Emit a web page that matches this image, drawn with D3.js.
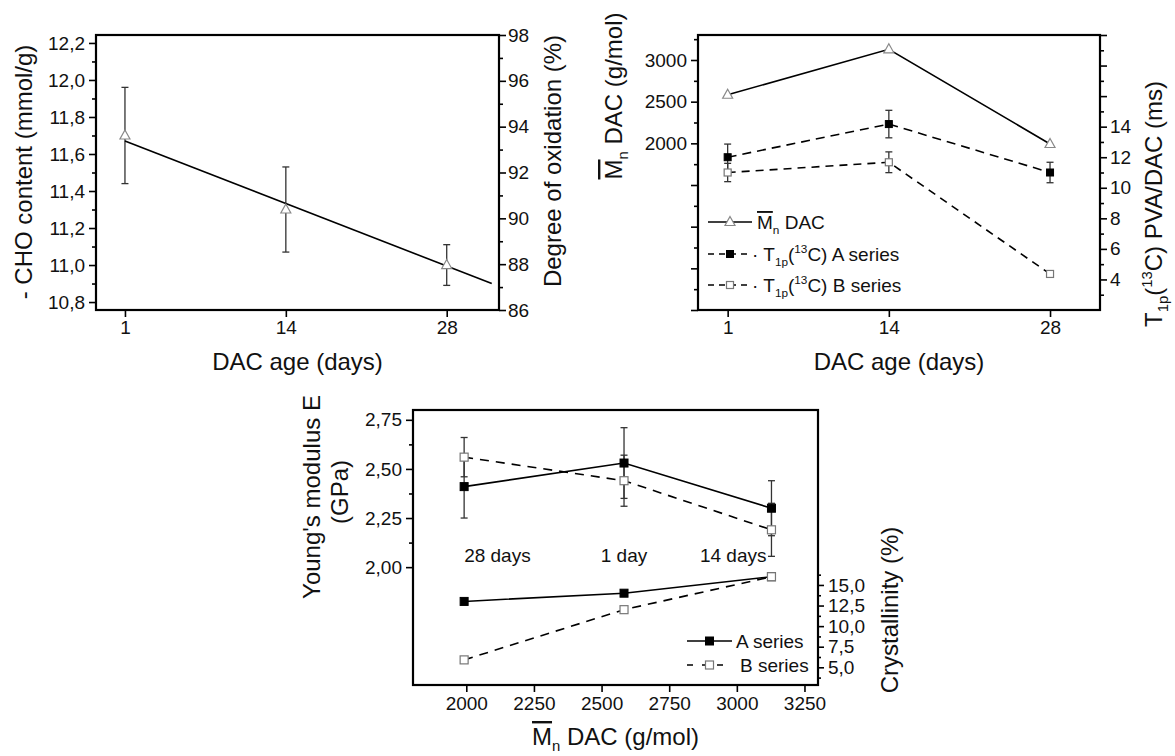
<!DOCTYPE html>
<html>
<head>
<meta charset="utf-8">
<script src="https://cdn.jsdelivr.net/npm/d3@7"></script>
<style>
  body { margin: 0; background: #fff; }
  svg text { font-family: "Liberation Sans", Arial, sans-serif; fill: #111; }
</style>
</head>
<body>
<svg id="chart" width="1175" height="756"></svg>
<script>
// ---- sample ages ----
const days = [1, 14, 28];
const dayLabels = ["1", "14", "28"];

// ---- -CHO content (mmol/g) with standard deviations ----
const choContent = [11.70, 11.30, 11.00];
const choError = [0.26, 0.23, 0.11];
// linear fit through the -CHO data (sample position -> value)
const choFitPos = [1, 3.28];
const choFitVal = [11.67, 10.90];

// ---- number-average molar mass of DAC (g/mol) ----
const mnDac = [2583, 3128, 1992];

// ---- T1p(13C) relaxation times of PVA/DAC (ms) ----
const t1pA = [12.0, 14.17, 11.0];
const t1pAErr = [0.86, 0.9, 0.67];
const t1pB = [11.0, 11.67, 4.36];
const t1pBErr = [0.6, 0.68, 0];

// ---- films ordered by Mn of the DAC used ----
const filmOrder = [2, 0, 1];               // indices into days: 28, 1, 14
const filmLabels = ["28 days", "1 day", "14 days"];
const youngA = [2.41, 2.53, 2.30];
const youngAErr = [0.16, 0.18, 0.14];
const youngB = [2.56, 2.44, 2.19];
const youngBErr = [0.10, 0.13, 0.135];
const crystA = [13.0, 14.0, 16.0];
const crystB = [5.9, 12.0, 16.0];

// ---- axis ticks ----
const choTicks = [10.8, 11.0, 11.2, 11.4, 11.6, 11.8, 12.0, 12.2];
const oxTicks = [86, 88, 90, 92, 94, 96, 98];
const mnTicks = [0, 500, 1000, 1500, 2000, 2500, 3000];
const mnLabelled = [2000, 2500, 3000];
const t1pTicks = [4, 6, 8, 10, 12, 14, 16, 18, 20];
const t1pLabelled = [4, 6, 8, 10, 12, 14];
const youngTicks = [2.00, 2.25, 2.50, 2.75];
const crystTicks = [5.0, 7.5, 10.0, 12.5, 15.0];
const mnAxisTicks = [2000, 2250, 2500, 2750, 3000, 3250];

const svg = d3.select("#chart");
const locale = d3.formatLocale({decimal: ",", thousands: ".", grouping: [3], currency: ["", ""]});
const f1 = locale.format(".1f"), f2 = locale.format(".2f");

const TICK_FS = 19, TITLE_FS = 24;

function frame(p) {
  svg.append("rect").attr("x", p.l).attr("y", p.t)
    .attr("width", p.r - p.l).attr("height", p.b - p.t)
    .attr("fill", "none").attr("stroke", "#000").attr("stroke-width", 2.2);
}

function axis(gen, transform, vals, fmt, size, pad) {
  const g = svg.append("g").attr("transform", transform)
    .call(gen.tickValues(vals).tickFormat(fmt).tickSize(size).tickPadding(pad));
  g.select(".domain").remove();
  g.attr("font-size", TICK_FS).attr("font-family", "Liberation Sans, Arial, sans-serif");
  g.selectAll(".tick line").attr("stroke", "#000").attr("stroke-width", 1.6);
  g.selectAll(".tick text").attr("fill", "#111");
  return g;
}

// text with optional sub/superscript and overlined pieces
function rich(sel, parts, size) {
  let shift = 0;
  parts.forEach(p => {
    const ts = sel.append("tspan").text(p.t);
    let target = 0, fs = size;
    if (p.sub) { target = size * 0.26; fs = size * 0.62; }
    if (p.sup) { target = -size * 0.42; fs = size * 0.62; }
    ts.attr("font-size", fs).attr("dy", target - shift);
    shift = target;
    if (p.over) ts.style("text-decoration", "overline");
  });
  return sel;
}

function vTitle(x, y, parts, size) {
  const t = svg.append("text").attr("transform", `translate(${x},${y}) rotate(-90)`)
    .attr("text-anchor", "middle").attr("font-size", size);
  return rich(t, parts, size);
}
function hTitle(x, y, parts, size, anchor) {
  const t = svg.append("text").attr("x", x).attr("y", y)
    .attr("text-anchor", anchor || "middle").attr("font-size", size);
  return rich(t, parts, size);
}

function triangle(g, cx, cy) {
  g.append("path").attr("d", `M${cx},${cy - 5.5}L${cx + 5},${cy + 3.5}L${cx - 5},${cy + 3.5}Z`)
    .attr("fill", "#fff").attr("stroke", "#888").attr("stroke-width", 1.2);
}
function square(g, cx, cy, s, filled) {
  g.append("rect").attr("x", cx - s / 2).attr("y", cy - s / 2).attr("width", s).attr("height", s)
    .attr("fill", filled ? "#000" : "#fff").attr("stroke", filled ? "#000" : "#777")
    .attr("stroke-width", filled ? 1 : 1.2);
}
function errBar(g, cx, yTop, yBot) {
  g.append("line").attr("x1", cx).attr("x2", cx).attr("y1", yTop).attr("y2", yBot)
    .attr("stroke", "#333").attr("stroke-width", 1.3);
  [yTop, yBot].forEach(y => g.append("line").attr("x1", cx - 3.5).attr("x2", cx + 3.5)
    .attr("y1", y).attr("y2", y).attr("stroke", "#333").attr("stroke-width", 1.3));
}

const dayPos = days.map((d, i) => i + 1);
const minorBetween = (arr, step) => arr.slice(0, -1).map(v => v + step);

// ================= Panel 1: -CHO content vs DAC age =================
const p1 = {l: 96, r: 499, t: 35, b: 310};
const x1 = d3.scaleLinear().domain([0.82, 3.325]).range([p1.l, p1.r]);
const y1 = d3.scaleLinear().domain([10.757, 12.243]).range([p1.b, p1.t]);
const y1r = d3.scaleLinear().domain([86, 98]).range([p1.b, p1.t]);

axis(d3.axisBottom(x1), `translate(0,${p1.b})`, dayPos, (d, i) => dayLabels[i], 7, 4);
axis(d3.axisLeft(y1), `translate(${p1.l},0)`, choTicks, f1, 7, 4);
axis(d3.axisLeft(y1), `translate(${p1.l},0)`, minorBetween(choTicks, 0.1), "", 4, 0);
axis(d3.axisRight(y1r), `translate(${p1.r},0)`, oxTicks, d3.format("d"), 7, 2);
axis(d3.axisRight(y1r), `translate(${p1.r},0)`, minorBetween(oxTicks, 1), "", 4, 0);

const g1 = svg.append("g");
dayPos.forEach((p, i) => errBar(g1, x1(p), y1(choContent[i] + choError[i]), y1(choContent[i] - choError[i])));
g1.append("path")
  .attr("d", d3.line()(choFitPos.map((p, i) => [x1(p), y1(choFitVal[i])])))
  .attr("fill", "none").attr("stroke", "#000").attr("stroke-width", 1.6);
dayPos.forEach((p, i) => triangle(g1, x1(p), y1(choContent[i])));
frame(p1);

vTitle(32, 172, [{t: "- CHO content (mmol/g)"}], TITLE_FS);
vTitle(561, 161, [{t: "Degree of oxidation (%)"}], TITLE_FS);
hTitle((p1.l + p1.r) / 2, 370, [{t: "DAC age (days)"}], TITLE_FS);

// ================= Panel 2: Mn and T1p vs DAC age =================
const p2 = {l: 698, r: 1100, t: 35, b: 310};
const x2 = d3.scaleLinear().domain([0.816, 3.31]).range([p2.l, p2.r]);
const y2 = d3.scaleLinear().domain([0, 3300]).range([p2.b, p2.t]);
const y2r = d3.scaleLinear().domain([2, 20]).range([p2.b, p2.t]);

axis(d3.axisBottom(x2), `translate(0,${p2.b})`, dayPos, (d, i) => dayLabels[i], 7, 4);
axis(d3.axisLeft(y2), `translate(${p2.l},0)`, mnTicks, d => mnLabelled.includes(d) ? d : "", 7, 4);
axis(d3.axisLeft(y2), `translate(${p2.l},0)`, mnTicks.map(v => v + 250), "", 4, 0);
axis(d3.axisRight(y2r), `translate(${p2.r},0)`, t1pTicks, d => t1pLabelled.includes(d) ? d : "", 7, 3);
axis(d3.axisRight(y2r), `translate(${p2.r},0)`, minorBetween([2].concat(t1pTicks), 1), "", 4, 0);

const g2 = svg.append("g");
const line2 = d3.line();
g2.append("path").attr("d", line2(dayPos.map((p, i) => [x2(p), y2(mnDac[i])])))
  .attr("fill", "none").attr("stroke", "#000").attr("stroke-width", 1.6);
g2.append("path").attr("d", line2(dayPos.map((p, i) => [x2(p), y2r(t1pA[i])])))
  .attr("fill", "none").attr("stroke", "#000").attr("stroke-width", 1.6).attr("stroke-dasharray", "9,6");
g2.append("path").attr("d", line2(dayPos.map((p, i) => [x2(p), y2r(t1pB[i])])))
  .attr("fill", "none").attr("stroke", "#000").attr("stroke-width", 1.6).attr("stroke-dasharray", "8,6");
dayPos.forEach((p, i) => {
  if (t1pAErr[i]) errBar(g2, x2(p), y2r(t1pA[i] + t1pAErr[i]), y2r(t1pA[i] - t1pAErr[i]));
  if (t1pBErr[i]) errBar(g2, x2(p), y2r(t1pB[i] + t1pBErr[i]), y2r(t1pB[i] - t1pBErr[i]));
});
dayPos.forEach((p, i) => {
  triangle(g2, x2(p), y2(mnDac[i]));
  square(g2, x2(p), y2r(t1pA[i]), 7, true);
  square(g2, x2(p), y2r(t1pB[i]), 7, false);
});
frame(p2);

// legend
const leg2 = [
  {y: 222, dash: null, mark: "tri", label: [{t: "M", over: true}, {t: "n", sub: true}, {t: " DAC"}]},
  {y: 254, dash: "6,5", mark: "full", label: [{t: "· T"}, {t: "1p", sub: true}, {t: "("}, {t: "13", sup: true}, {t: "C) A series"}]},
  {y: 285, dash: "6,5", mark: "open", label: [{t: "· T"}, {t: "1p", sub: true}, {t: "("}, {t: "13", sup: true}, {t: "C) B series"}]}
];
leg2.forEach(e => {
  const ln = g2.append("line").attr("x1", 708).attr("x2", 752).attr("y1", e.y).attr("y2", e.y)
    .attr("stroke", "#000").attr("stroke-width", 1.5);
  if (e.dash) ln.attr("stroke-dasharray", e.dash);
  if (e.mark === "tri") triangle(g2, 730, e.y);
  else square(g2, 730, e.y, 7, e.mark === "full");
  hTitle(e.mark === "tri" ? 757 : 752, e.y + 7, e.label, TICK_FS, "start");
});

vTitle(622, 96, [{t: "M", over: true}, {t: "n", sub: true}, {t: " DAC (g/mol)"}], TITLE_FS);
vTitle(1162, 204, [{t: "T"}, {t: "1p", sub: true}, {t: "("}, {t: "13", sup: true}, {t: "C) PVA/DAC (ms)"}], TITLE_FS);
hTitle((p2.l + p2.r) / 2, 370, [{t: "DAC age (days)"}], TITLE_FS);

// ================= Panel 3: modulus and crystallinity vs Mn =================
const p3 = {l: 413, r: 818, t: 410, b: 685};
const x3 = d3.scaleLinear().domain([1803, 3300]).range([p3.l, p3.r]);
const y3 = d3.scaleLinear().domain([1.4, 2.8]).range([p3.b, p3.t]);
const y3r = d3.scaleLinear().domain([2.85, 36.25]).range([p3.b, p3.t]);

axis(d3.axisBottom(x3), `translate(0,${p3.b})`, mnAxisTicks, d3.format("d"), 7, 5);
axis(d3.axisLeft(y3), `translate(${p3.l},0)`, youngTicks, f2, 7, 4);
axis(d3.axisLeft(y3), `translate(${p3.l},0)`, minorBetween(youngTicks, 0.125), "", 4, 0);
axis(d3.axisRight(y3r), `translate(${p3.r},0)`, crystTicks, f1, 6, 4);
axis(d3.axisRight(y3r), `translate(${p3.r},0)`, [3.75].concat(crystTicks.map(v => v + 1.25)), "", 3, 0);

const filmMn = filmOrder.map(i => mnDac[i]);
const g3 = svg.append("g");
const line3 = d3.line();
const seriesLine = (vals, sc, dash) => {
  const pth = g3.append("path").attr("d", line3(filmMn.map((m, i) => [x3(m), sc(vals[i])])))
    .attr("fill", "none").attr("stroke", "#000").attr("stroke-width", 1.6);
  if (dash) pth.attr("stroke-dasharray", dash);
};
seriesLine(youngA, y3, null);
seriesLine(youngB, y3, "9,7");
seriesLine(crystA, y3r, null);
seriesLine(crystB, y3r, "9,7");
filmMn.forEach((m, i) => {
  errBar(g3, x3(m), y3(youngA[i] + youngAErr[i]), y3(youngA[i] - youngAErr[i]));
  errBar(g3, x3(m), y3(youngB[i] + youngBErr[i]), y3(youngB[i] - youngBErr[i]));
});
filmMn.forEach((m, i) => {
  square(g3, x3(m), y3(youngA[i]), 8, true);
  square(g3, x3(m), y3(youngB[i]), 8, false);
  square(g3, x3(m), y3r(crystA[i]), 8, true);
  square(g3, x3(m), y3r(crystB[i]), 8, false);
});
// film labels
const labelAnchor = ["start", "middle", "end"];
const labelShift = [0, 0, -5];
filmMn.forEach((m, i) => {
  hTitle(x3(m) + labelShift[i], 562, [{t: filmLabels[i]}], TICK_FS, labelAnchor[i]);
});
frame(p3);

// legend
const leg3 = [
  {y: 641, dash: null, filled: true, label: "A series"},
  {y: 665, dash: "6,9", filled: false, label: "B series"}
];
leg3.forEach(e => {
  const ln = g3.append("line").attr("x1", 687).attr("x2", 732).attr("y1", e.y).attr("y2", e.y)
    .attr("stroke", "#000").attr("stroke-width", 1.5);
  if (e.dash) ln.attr("stroke-dasharray", e.dash);
  square(g3, 709.5, e.y, 8, e.filled);
  hTitle(e.filled ? 736 : 740, e.y + 7, [{t: e.label}], TICK_FS, "start");
});

svg.append("text").attr("transform", "translate(319.5,497) rotate(-90)")
  .attr("text-anchor", "middle").attr("font-size", TITLE_FS).text("Young's modulus E");
svg.append("text").attr("transform", "translate(348,492) rotate(-90)")
  .attr("text-anchor", "middle").attr("font-size", TITLE_FS).text("(GPa)");
vTitle(898, 610, [{t: "Crystallinity (%)"}], TITLE_FS);
hTitle((p3.l + p3.r) / 2, 745, [{t: "M", over: true}, {t: "n", sub: true}, {t: " DAC (g/mol)"}], TITLE_FS);
</script>
</body>
</html>
